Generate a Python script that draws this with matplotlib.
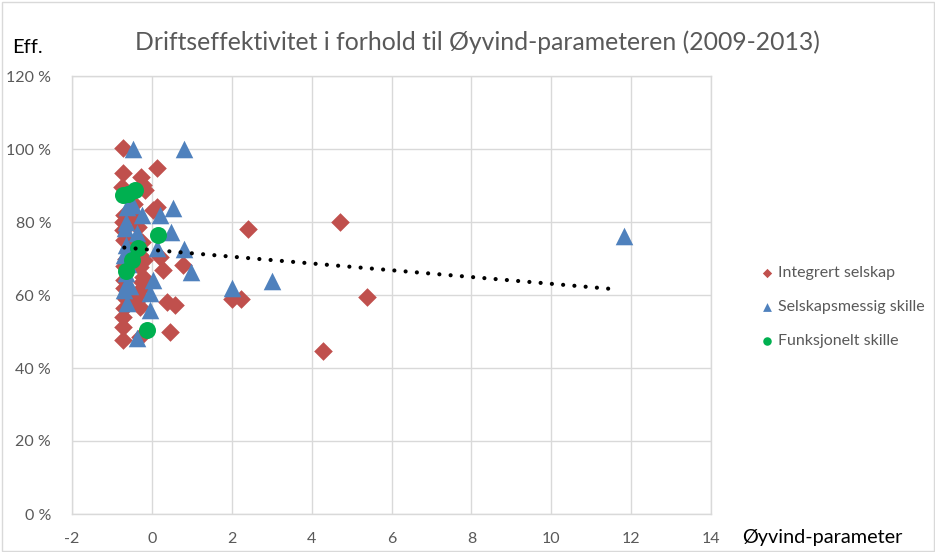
import matplotlib
matplotlib.use("Agg")
import matplotlib.pyplot as plt
from matplotlib.patches import Rectangle

plt.rcParams['font.family'] = ['Lato', 'DejaVu Sans']

# --- data ---------------------------------------------------------------
integrert_x = [-0.72, 0.12, -0.72, -0.26, -0.22, -0.18, -0.76, 0.03, 0.12, -0.72, -0.72,
               -0.55, 0.20, 0.78, 0.28, -0.30, -0.22, -0.22, 0.37, 0.58, -0.30, -0.72,
               -0.72, 0.45, -0.72, -0.30, -0.70, -0.70, -0.65, -0.70, -0.70, -0.70, -0.65,
               -0.70, -0.45, -0.40, -0.35, -0.25, -0.30, -0.20, -0.25, -0.35, -0.40,
               2.41, 4.71, 5.39, 4.29, 2.00, 2.22]
integrert_y = [100.2, 94.9, 93.3, 92.4, 90.1, 88.8, 89.7, 83.3, 84.2, 80.1, 77.8,
               74.2, 70.5, 68.2, 66.8, 67.8, 65.0, 62.3, 58.2, 57.3, 56.8, 54.0,
               51.3, 49.9, 47.7, 48.6, 82.0, 75.0, 70.0, 68.0, 64.0, 62.0, 59.0,
               56.5, 85.0, 80.5, 78.5, 74.5, 71.0, 69.5, 63.5, 60.0, 58.0,
               78.0, 80.0, 59.5, 44.7, 58.8, 58.8]

selskap_x = [-0.47, 0.81, -0.63, -0.47, 0.52, -0.24, 0.20, -0.68, -0.38, 0.49, -0.65,
             0.12, 0.80, 0.99, 0.03, -0.63, -0.05, -0.63, -0.05, -0.38, -0.65, -0.70,
             -0.60, -0.65, -0.70, -0.55, 2.00, 3.00, 11.83]
selskap_y = [100.0, 100.0, 84.2, 84.7, 83.8, 81.9, 81.9, 78.3, 76.9, 77.3, 73.7,
             73.0, 72.5, 66.4, 64.1, 63.2, 60.5, 57.7, 55.9, 48.1, 80.0, 71.0,
             68.5, 66.0, 61.5, 62.5, 61.8, 63.8, 76.2]

funksjonelt_x = [-0.72, -0.59, -0.42, 0.15, -0.34, -0.51, -0.66, -0.13]
funksjonelt_y = [87.4, 87.8, 88.8, 76.4, 72.8, 69.6, 66.5, 50.4]

trend_x = [-0.69, 11.58]
trend_y = [73.0, 61.6]

series_names = ["Integrert selskap", "Selskapsmessig skille", "Funksjonelt skille"]
x_ticks = [-2, 0, 2, 4, 6, 8, 10, 12, 14]
y_ticks = [0, 20, 40, 60, 80, 100, 120]

title = "Driftseffektivitet i forhold til Øyvind-parameteren (2009-2013)"

# --- figure ---------------------------------------------------------------
W, H = 935, 552
fig = plt.figure(figsize=(W / 100, H / 100), dpi=100)
ax = fig.add_axes([72 / W, 1 - 514 / H, (711 - 72) / W, (514 - 76) / H])

grid_c = "#D9D9D9"
text_c = "#595959"

ax.set_xlim(-2, 14)
ax.set_ylim(0, 120)
ax.set_xticks(x_ticks)
ax.set_yticks(y_ticks)
ax.set_xticklabels([str(v) for v in x_ticks])
ax.set_yticklabels([f"{v} %" for v in y_ticks])
ax.tick_params(length=0, labelsize=11.5, colors=text_c)
ax.tick_params(axis='x', pad=13)
ax.tick_params(axis='y', pad=15)
ax.grid(True, color=grid_c, linewidth=1.0)
ax.set_axisbelow(True)
for s in ax.spines.values():
    s.set_color(grid_c)
    s.set_linewidth(1.0)

red = "#C0504D"
blue = "#4F81BD"
green = "#00B050"

ax.scatter(integrert_x, integrert_y, marker='D', s=90, color=red, linewidths=0,
           label=series_names[0], zorder=3)
ax.scatter(selskap_x, selskap_y, marker='^', s=160, color=blue, linewidths=0,
           label=series_names[1], zorder=3)
ax.scatter(funksjonelt_x, funksjonelt_y, marker='o', s=150, color=green, linewidths=0,
           label=series_names[2], zorder=4)

ax.plot(trend_x, trend_y, color='black', linewidth=3.0,
        linestyle=(0, (0.01, 2.7)), dash_capstyle='round', zorder=5)

leg = fig.legend(handles=ax.collections[:3], labels=series_names,
                 loc='center left', bbox_to_anchor=(748 / W, 1 - 307 / H),
                 frameon=False, fontsize=11.5, labelspacing=1.25,
                 handlelength=0.6, handletextpad=0.35, markerscale=0.5,
                 labelcolor=text_c)

fig.text(0.5 + 10 / W, 1 - 42 / H, title, ha='center', va='center',
         fontsize=17.8, color=text_c)
fig.text(12 / W, 1 - 48 / H, "Eff.", ha='left', va='center',
         fontsize=14.5, color='black')
fig.text(742 / W, 1 - 537 / H, "Øyvind-parameter", ha='left', va='center',
         fontsize=14.3, color='black')

fig.add_artist(Rectangle((1.5 / W, 1.5 / H), (W - 3) / W, (H - 3) / H,
                         transform=fig.transFigure, fill=False,
                         edgecolor=grid_c, linewidth=1.0))

fig.savefig("out.png", dpi=100)
